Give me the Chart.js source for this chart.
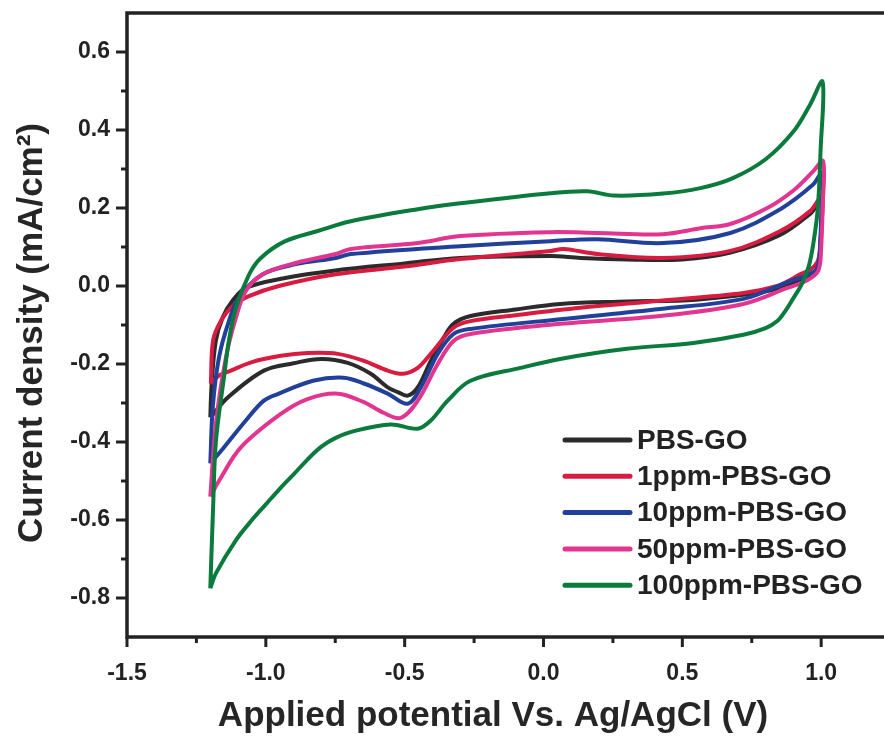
<!DOCTYPE html>
<html>
<head>
<meta charset="utf-8">
<script src="https://cdn.jsdelivr.net/npm/chart.js@4.4.1/dist/chart.umd.min.js"></script>
<style>
  html, body { margin: 0; padding: 0; background: #fff; overflow: hidden; }
  #wrap { width: 970px; height: 736px; }
</style>
</head>
<body>
<div id="wrap"><canvas id="cv" width="970" height="736"></canvas></div>
<script>
// tick values (V and mA/cm2)
const xMajorTicks = [-1.5, -1.0, -0.5, 0.0, 0.5, 1.0, 1.5];
const xMinorTicks = [-1.25, -0.75, -0.25, 0.25, 0.75, 1.25];
const yMajorTicks = [-0.8, -0.6, -0.4, -0.2, 0.0, 0.2, 0.4, 0.6];
const yMinorTicks = [-0.7, -0.5, -0.3, -0.1, 0.1, 0.3, 0.5];

const legendLabels = ["PBS-GO", "1ppm-PBS-GO", "10ppm-PBS-GO", "50ppm-PBS-GO", "100ppm-PBS-GO"];
const lineColors = ["#2b2b2b", "#d81b40", "#20409a", "#e2358f", "#0a7a3d"];

// each loop: forward scan (upper branch) then reverse scan (lower branch)
const pbsV = [-1.2, -1.195, -1.18, -1.155, -1.12, -1.072, -0.935, -0.75, -0.5, -0.3, 0.025, 0.133, 0.3, 0.5, 0.67, 0.85, 0.96, 1.0,
  0.997, 0.988, 0.96, 0.914, 0.79, 0.55, 0.3, 0.061, -0.1, -0.263, -0.324, -0.36, -0.406, -0.453, -0.489, -0.525, -0.561, -0.622, -0.705, -0.8, -0.9, -1.007, -1.137, -1.2];
const pbsJ = [-0.337, -0.25, -0.14, -0.08, -0.038, -0.005, 0.02, 0.04, 0.058, 0.072, 0.077, 0.072, 0.068, 0.068, 0.085, 0.13, 0.185, 0.215,
  0.11, 0.05, 0.025, 0.01, -0.015, -0.035, -0.04, -0.046, -0.06, -0.077, -0.097, -0.133, -0.192, -0.26, -0.281, -0.272, -0.26, -0.225, -0.197, -0.187, -0.198, -0.217, -0.286, -0.337];

const ppm1V = [-1.198, -1.19, -1.162, -1.119, -1.061, -0.953, -0.748, -0.5, -0.3, 0.025, 0.072, 0.194, 0.43, 0.673, 0.853, 0.96, 1.003,
  1.0, 0.996, 0.985, 0.96, 0.924, 0.9, 0.842, 0.72, 0.42, 0.133, -0.1, -0.263, -0.324, -0.406, -0.453, -0.504, -0.561, -0.647, -0.741, -0.85, -0.946, -1.05, -1.126, -1.17, -1.198];
const ppm1J = [-0.25, -0.14, -0.09, -0.051, -0.026, 0.0, 0.03, 0.05, 0.069, 0.09, 0.095, 0.082, 0.072, 0.09, 0.141, 0.192, 0.23,
  0.15, 0.09, 0.06, 0.042, 0.03, 0.02, 0.0, -0.018, -0.038, -0.056, -0.075, -0.09, -0.107, -0.174, -0.21, -0.225, -0.217, -0.192, -0.174, -0.172, -0.179, -0.195, -0.217, -0.23, -0.25];

const ppm10V = [-1.2, -1.191, -1.169, -1.133, -1.097, -1.011, -0.892, -0.748, -0.694, -0.3, 0.025, 0.194, 0.43, 0.673, 0.853, 0.971, 1.003,
  1.0, 0.995, 0.985, 0.95, 0.878, 0.72, 0.42, 0.061, -0.263, -0.324, -0.381, -0.442, -0.489, -0.561, -0.647, -0.72, -0.83, -0.953, -1.007, -1.072, -1.151, -1.2];
const ppm10J = [-0.455, -0.31, -0.184, -0.09, -0.03, 0.03, 0.056, 0.072, 0.082, 0.102, 0.115, 0.12, 0.11, 0.136, 0.197, 0.26, 0.29,
  0.18, 0.09, 0.045, 0.028, 0.01, -0.033, -0.059, -0.085, -0.11, -0.123, -0.174, -0.26, -0.302, -0.276, -0.25, -0.235, -0.243, -0.276, -0.294, -0.345, -0.414, -0.455];

const ppm50V = [-1.2, -1.18, -1.144, -1.108, -1.072, -1.011, -0.892, -0.748, -0.694, -0.453, -0.3, 0.025, 0.194, 0.43, 0.565, 0.673, 0.806, 0.9, 0.971, 1.007,
  1.005, 1.0, 0.99, 0.95, 0.878, 0.72, 0.42, 0.061, -0.263, -0.324, -0.381, -0.453, -0.514, -0.576, -0.647, -0.741, -0.85, -0.95, -1.09, -1.169, -1.2];
const ppm50J = [-0.54, -0.353, -0.184, -0.082, -0.013, 0.03, 0.059, 0.082, 0.095, 0.11, 0.128, 0.138, 0.136, 0.133, 0.148, 0.159, 0.2, 0.245, 0.294, 0.32,
  0.2, 0.1, 0.04, 0.015, -0.005, -0.046, -0.077, -0.097, -0.123, -0.141, -0.2, -0.294, -0.338, -0.325, -0.298, -0.276, -0.29, -0.33, -0.414, -0.5, -0.54];

const ppm100V = [-1.2, -1.19, -1.18, -1.15, -1.133, -1.108, -1.06, -1.018, -0.93, -0.813, -0.694, -0.453, -0.3, 0.025, 0.158, 0.252, 0.43, 0.565, 0.68, 0.8, 0.9, 0.96, 1.005,
  0.998, 0.988, 0.972, 0.955, 0.93, 0.9, 0.87, 0.842, 0.8, 0.72, 0.54, 0.3, 0.06, -0.083, -0.263, -0.345, -0.406, -0.453, -0.55, -0.683, -0.75, -0.8, -0.85, -0.9, -0.95, -1.0, -1.05, -1.108, -1.18, -1.2];
const ppm100J = [-0.775, -0.57, -0.4, -0.23, -0.14, -0.056, 0.03, 0.072, 0.115, 0.141, 0.166, 0.197, 0.212, 0.238, 0.243, 0.232, 0.237, 0.251, 0.276, 0.325, 0.396, 0.465, 0.524,
  0.35, 0.2, 0.11, 0.05, 0.005, -0.031, -0.065, -0.09, -0.108, -0.125, -0.146, -0.161, -0.187, -0.21, -0.243, -0.294, -0.345, -0.366, -0.355, -0.372, -0.39, -0.412, -0.445, -0.483, -0.52, -0.56, -0.6, -0.652, -0.737, -0.775];

const seriesV = [pbsV, ppm1V, ppm10V, ppm50V, ppm100V];
const seriesJ = [pbsJ, ppm1J, ppm10J, ppm50J, ppm100J];

const FONT = '"Liberation Sans", Arial, sans-serif';
const INK = "#222";

const datasets = legendLabels.map((label, i) => ({
  label,
  data: seriesV[i].map((v, k) => ({ x: v, y: seriesJ[i][k] })),
  borderColor: lineColors[i],
  borderWidth: 4,
  showLine: true,
  pointRadius: 0,
  tension: 0.35,
  order: legendLabels.length - i
}));

const framePlugin = {
  id: "frame",
  afterDatasetsDraw(chart) {
    const { ctx, chartArea: a, scales } = chart;
    const x = scales.x, y = scales.y;
    ctx.save();
    ctx.strokeStyle = INK;
    ctx.lineWidth = 3.5;
    ctx.lineCap = "butt";
    ctx.strokeRect(a.left, a.top, a.right - a.left, a.bottom - a.top);

    ctx.lineWidth = 3;
    const tick = (x1, y1, x2, y2) => {
      ctx.beginPath();
      ctx.moveTo(x1, y1);
      ctx.lineTo(x2, y2);
      ctx.stroke();
    };
    xMajorTicks.forEach((v) => { const p = x.getPixelForValue(v); tick(p, a.bottom, p, a.bottom + 10); });
    xMinorTicks.forEach((v) => { const p = x.getPixelForValue(v); tick(p, a.bottom, p, a.bottom + 6); });
    yMajorTicks.forEach((v) => { const p = y.getPixelForValue(v); tick(a.left, p, a.left - 11, p); });
    yMinorTicks.forEach((v) => { const p = y.getPixelForValue(v); tick(a.left, p, a.left - 6, p); });

    // axis titles
    ctx.fillStyle = "#262626";
    ctx.font = `bold 35px ${FONT}`;
    ctx.textAlign = "center";
    ctx.textBaseline = "middle";
    ctx.fillText("Applied potential Vs. Ag/AgCl (V)", 493, 716);
    ctx.save();
    ctx.translate(32, 333);
    ctx.rotate(-Math.PI / 2);
    ctx.fillText("Current density (mA/cm\u00B2)", 0, 0);
    ctx.restore();

    // legend
    ctx.font = `bold 28px ${FONT}`;
    ctx.textAlign = "left";
    legendLabels.forEach((label, i) => {
      const ly = 440 + 36.3 * i;
      ctx.strokeStyle = lineColors[i];
      ctx.lineWidth = 5;
      ctx.lineCap = "round";
      tick(565, ly, 630, ly);
      ctx.fillStyle = INK;
      ctx.fillText(label, 637, ly + 1);
    });
    ctx.restore();
  }
};

const noPad = (s) => {
  s.paddingTop = 0;
  s.paddingBottom = 0;
  s.paddingLeft = 0;
  s.paddingRight = 0;
};

new Chart(document.getElementById("cv"), {
  type: "scatter",
  data: { datasets },
  options: {
    responsive: false,
    animation: false,
    layout: { padding: { top: 13, right: 10, left: 0, bottom: 0 } },
    plugins: { legend: { display: false }, tooltip: { enabled: false } },
    scales: {
      x: {
        type: "linear",
        min: -1.5,
        max: 1.5,
        afterBuildTicks: (s) => { s.ticks = xMajorTicks.map((v) => ({ value: v })); },
        afterFit: (s) => { s.height = 99; noPad(s); },
        grid: { display: false, drawTicks: false },
        border: { display: false },
        ticks: {
          padding: 23,
          color: INK,
          font: { family: FONT, size: 23, weight: "bold" },
          callback: (v) => Number(v).toFixed(1)
        }
      },
      y: {
        type: "linear",
        min: -0.9,
        max: 0.7,
        afterBuildTicks: (s) => { s.ticks = yMajorTicks.map((v) => ({ value: v })); },
        afterFit: (s) => { s.width = 127; noPad(s); },
        grid: { display: false, drawTicks: false },
        border: { display: false },
        ticks: {
          padding: 17,
          color: INK,
          font: { family: FONT, size: 23, weight: "bold" },
          callback: (v) => Number(v).toFixed(1)
        }
      }
    }
  },
  plugins: [framePlugin]
});
</script>
</body>
</html>
